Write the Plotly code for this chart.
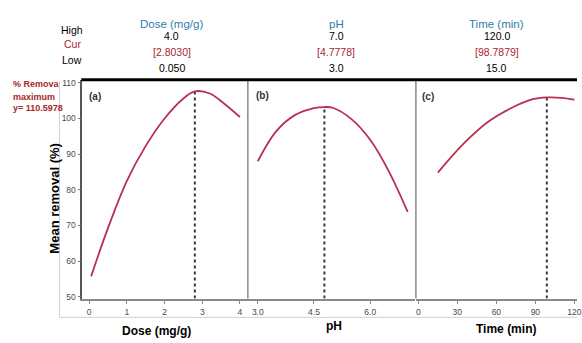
import plotly.graph_objects as go

W, H = 582, 343

# ---- data ----
dose = [0.05, 0.5, 1.0, 1.5, 2.0, 2.5, 2.803, 3.2, 3.6, 4.0]
removal_dose = [55.7, 69.3, 82.5, 92.3, 100.0, 105.6, 107.6, 107.0, 104.0, 100.4]

ph = [3.0, 3.5, 4.0, 4.5, 4.7778, 5.0, 5.5, 6.0, 6.5, 7.0]
removal_ph = [88.0, 96.5, 101.0, 102.9, 103.2, 103.0, 99.8, 94.0, 85.1, 73.8]

time_min = [15, 35, 55, 73, 88, 98.79, 110, 120]
removal_time = [84.8, 93.0, 99.4, 103.2, 105.4, 105.9, 105.8, 105.3]

factors = ["Dose (mg/g)", "pH", "Time (min)"]
high_vals = ["4.0", "7.0", "120.0"]
cur_vals = ["[2.8030]", "[4.7778]", "[98.7879]"]
low_vals = ["0.050", "3.0", "15.0"]
cur_x = [2.8030, 4.7778, 98.7879]
cur_y = [107.6, 103.2, 105.9]

dose_ticks = [0, 1, 2, 3, 4]
ph_ticks = [3.0, 4.5, 6.0]
ph_ticklabels = ["3.0", "4.5", "6.0"]
time_ticks = [0, 30, 60, 90, 120]
y_ticks = [50, 60, 70, 80, 90, 100, 110]

Y_RANGE = [49.45, 110.83]

CURVE = "#b8304f"
RED = "#a8262c"
BLUE = "#2f7ea8"


def px(x):
    return x / W


def py(y):
    return 1 - y / H


fig = go.Figure()

axes = [("x", "y"), ("x2", "y"), ("x3", "y")]
series = [(dose, removal_dose), (ph, removal_ph), (time_min, removal_time)]
for (xa, ya), (xs, ys), cx, cy in zip(axes, series, cur_x, cur_y):
    fig.add_trace(go.Scatter(x=[cx, cx], y=[Y_RANGE[0], cy], mode="lines",
                             line=dict(color="#3a3a3a", width=2, dash="3px,3px"),
                             xaxis=xa, yaxis=ya, showlegend=False, hoverinfo="skip"))
    fig.add_trace(go.Scatter(x=xs, y=ys, mode="lines", line_shape="spline",
                             line=dict(color=CURVE, width=1.8),
                             xaxis=xa, yaxis=ya, showlegend=False))

tickfont = dict(family="Liberation Sans Narrow, Liberation Sans, Arial", size=8.5, color="#4a4a4a")
common_x = dict(showgrid=False, zeroline=False, showline=True, linecolor="#8a8a8a", linewidth=1.5,
                ticks="outside", ticklen=4, tickcolor="#8a8a8a", tickfont=tickfont, anchor="y",
                ticklabeloverflow="allow")

fig.update_layout(
    width=W, height=H, margin=dict(l=0, r=0, t=0, b=0),
    paper_bgcolor="white", plot_bgcolor="white",
    font=dict(family="Liberation Sans, Arial", color="black"),
    xaxis=dict(domain=[px(83), px(250)], range=[-0.184, 4.21], tickvals=dose_ticks, **common_x),
    xaxis2=dict(domain=[px(250), px(419)], range=[2.735, 7.206], tickvals=ph_ticks,
                ticktext=ph_ticklabels, **common_x),
    xaxis3=dict(domain=[px(420), 1.0], range=[-1.5, 122.0], tickvals=time_ticks, **common_x),
    yaxis=dict(domain=[py(301), py(79)], range=Y_RANGE, tickvals=y_ticks, anchor="x",
               showgrid=False, zeroline=False, showline=True, linecolor="#555", linewidth=1.5,
               ticks="outside", ticklen=3, tickcolor="#777", tickfont=tickfont),
)

shapes = []
# outer light frame
shapes.append(dict(type="line", xref="paper", yref="paper", x0=px(60), x1=px(60), y0=py(80), y1=py(320),
                   line=dict(color="#d0d0d0", width=1)))
shapes.append(dict(type="line", xref="paper", yref="paper", x0=px(60), x1=1, y0=py(320), y1=py(320),
                   line=dict(color="#d0d0d0", width=1)))
# panel dividers
for xd in [250, 419.5]:
    shapes.append(dict(type="line", xref="paper", yref="paper", x0=px(xd), x1=px(xd), y0=py(301), y1=py(79),
                       line=dict(color="#8a8a8a", width=1.5)))
# thick top line
shapes.append(dict(type="line", xref="paper", yref="paper", x0=px(82), x1=1, y0=py(79), y1=py(79),
                   line=dict(color="black", width=3)))
fig.update_layout(shapes=shapes)

ann = []


def add_text(text, x, y, size=11, color="black", bold=False, xanchor="center", angle=0,
             family="Liberation Sans, Arial"):
    ann.append(dict(text=("<b>%s</b>" % text) if bold else text, x=px(x), y=py(y),
                    xref="paper", yref="paper", showarrow=False, xanchor=xanchor, yanchor="middle",
                    textangle=angle, font=dict(size=size, color=color, family=family)))


# row labels
add_text("High", 73, 28, size=10.5)
add_text("Cur", 73, 43, size=10.5, color=RED)
add_text("Low", 73, 59, size=10.5)

head_x = [173, 339, 501]
for f, hv, cv, lv, hx in zip(factors, high_vals, cur_vals, low_vals, head_x):
    add_text(f, hx, 22, size=11.5, color=BLUE)
    add_text(hv, hx, 35, size=10.5)
    add_text(cv, hx, 51, size=10.5, color=RED)
    add_text(lv, hx, 67, size=10.5)

# left red text
add_text("% Remova", 11, 83, size=9, color=RED, bold=True, xanchor="left")
add_text("maximum", 11, 96, size=9, color=RED, bold=True, xanchor="left")
add_text("y= 110.5978", 11, 108, size=9, color=RED, bold=True, xanchor="left")

# panel labels
add_text("(a)", 96, 96, size=10, color="#333", bold=True)
add_text("(b)", 265, 95, size=10, color="#333", bold=True)
add_text("(c)", 432, 96, size=10, color="#333", bold=True)

# axis titles
add_text("Mean removal (%)", 55, 199, size=13, bold=True, angle=-90)
add_text("Dose (mg/g)", 158, 334, size=12, bold=True)
add_text("pH", 337, 329, size=12, bold=True)
add_text("Time (min)", 510, 332, size=12, bold=True)

fig.update_layout(annotations=ann)

fig.write_html("out.html", config={"displayModeBar": False},
               post_script="document.body.style.margin='0px';")
